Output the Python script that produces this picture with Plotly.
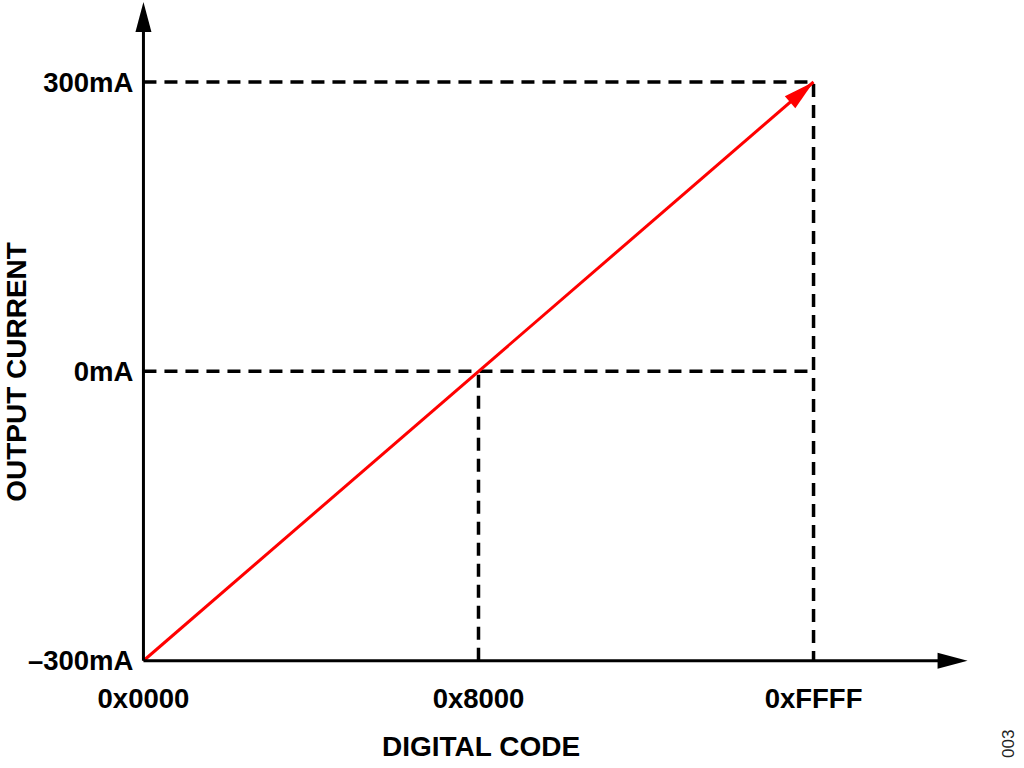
import numpy as np
import plotly.graph_objects as go

# DAC transfer function: digital code -> output current
codes = [0x0000, 0x8000, 0xFFFF]
code_labels = ["0x0000", "0x8000", "0xFFFF"]
currents = [-300, 0, 300]
current_labels = ["\u2013300mA", "0mA", "300mA"]

# where the axis arrows end
x_axis_end = 80600
y_axis_end = 383

# plot geometry (px) and padded ranges so axis lines are not clipped
W, H = 1024, 768
L, R, T, B = 123, 37, 0, 87
x_rng = [-2000, 82500]
y_rng = [-321, 385]
sx = (W - L - R) / (x_rng[1] - x_rng[0])
sy = (H - T - B) / (y_rng[1] - y_rng[0])

FONT = "Liberation Sans, Arial, sans-serif"
RED = "#ff0000"


def head(dx, dy, length=30, half=8):
    # triangle path in pixels, tip at the anchor, pointing along (dx, dy)
    n = np.hypot(dx, dy)
    ux, uy = dx / n, dy / n
    bx, by = -length * ux, -length * uy
    px, py = -uy * half, ux * half
    return f"M0,0 L{bx + px:.2f},{by + py:.2f} L{bx - px:.2f},{by - py:.2f} Z"


fig = go.Figure()

dash = dict(color="black", width=3.5, dash="13px,8px")
# dashed guides
fig.add_trace(go.Scatter(x=[codes[0], codes[2], codes[2]], y=[currents[2], currents[2], currents[0]],
                         mode="lines", line=dash, showlegend=False, hoverinfo="skip"))
fig.add_trace(go.Scatter(x=[codes[0], codes[2]], y=[currents[1], currents[1]],
                         mode="lines", line=dash, showlegend=False, hoverinfo="skip"))
fig.add_trace(go.Scatter(x=[codes[1], codes[1]], y=[currents[0], currents[1]],
                         mode="lines", line=dash, showlegend=False, hoverinfo="skip"))

# transfer line
fig.add_trace(go.Scatter(x=[codes[0], codes[2]], y=[currents[0], currents[2]],
                         mode="lines", line=dict(color=RED, width=3), showlegend=False))

shapes = [
    # axes
    dict(type="line", xref="x", yref="y", x0=codes[0], y0=currents[0], x1=x_axis_end - 20 / sx, y1=currents[0],
         line=dict(color="black", width=3)),
    dict(type="line", xref="x", yref="y", x0=codes[0], y0=currents[0], x1=codes[0], y1=y_axis_end - 20 / sy,
         line=dict(color="black", width=3)),
    # arrow heads
    dict(type="path", xref="x", yref="y", xsizemode="pixel", ysizemode="pixel",
         xanchor=codes[0], yanchor=y_axis_end, path=head(0, 1),
         fillcolor="black", line=dict(width=0)),
    dict(type="path", xref="x", yref="y", xsizemode="pixel", ysizemode="pixel",
         xanchor=x_axis_end, yanchor=currents[0], path=head(1, 0),
         fillcolor="black", line=dict(width=0)),
    dict(type="path", xref="x", yref="y", xsizemode="pixel", ysizemode="pixel",
         xanchor=codes[2], yanchor=currents[2],
         path=head(sx * (codes[2] - codes[0]), sy * (currents[2] - currents[0]), 31, 8),
         fillcolor=RED, line=dict(width=0)),
]

tickfont = dict(family=FONT, size=27.5, color="black", weight="bold")
titlefont = dict(family=FONT, size=28, color="black", weight="bold")

fig.update_layout(
    width=W, height=H,
    margin=dict(l=L, r=R, t=T, b=B),
    paper_bgcolor="white", plot_bgcolor="white",
    shapes=shapes,
    xaxis=dict(range=x_rng, showgrid=False, zeroline=False, showline=False,
               tickvals=codes, ticktext=code_labels, ticks="",
               tickfont=tickfont, anchor="free",
               position=(currents[0] - y_rng[0]) / (y_rng[1] - y_rng[0]),
               ticklabelstandoff=19),
    yaxis=dict(range=y_rng, showgrid=False, zeroline=False, showline=False,
               tickvals=currents, ticktext=current_labels, ticks="",
               tickfont=tickfont, anchor="free",
               position=(codes[0] - x_rng[0]) / (x_rng[1] - x_rng[0]),
               ticklabelstandoff=10),
    annotations=[
        dict(text="DIGITAL CODE", xref="x", yref="y", x=codes[1], y=currents[0],
             xshift=2, yshift=-86, showarrow=False, font=titlefont,
             xanchor="center", yanchor="middle"),
        dict(text="OUTPUT CURRENT", xref="x", yref="y", x=codes[0], y=currents[1],
             xshift=-127, showarrow=False, font=titlefont, textangle=-90,
             xanchor="center", yanchor="middle"),
        dict(text="003", xref="paper", yref="paper", x=1, y=0, xshift=21, yshift=-79,
             showarrow=False, font=dict(family=FONT, size=17, color="#222222"),
             textangle=-90, xanchor="center", yanchor="bottom"),
    ],
)

fig.write_html("out.html", config={"displayModeBar": False},
               post_script="document.body.style.margin='0';document.body.style.overflow='hidden';")
